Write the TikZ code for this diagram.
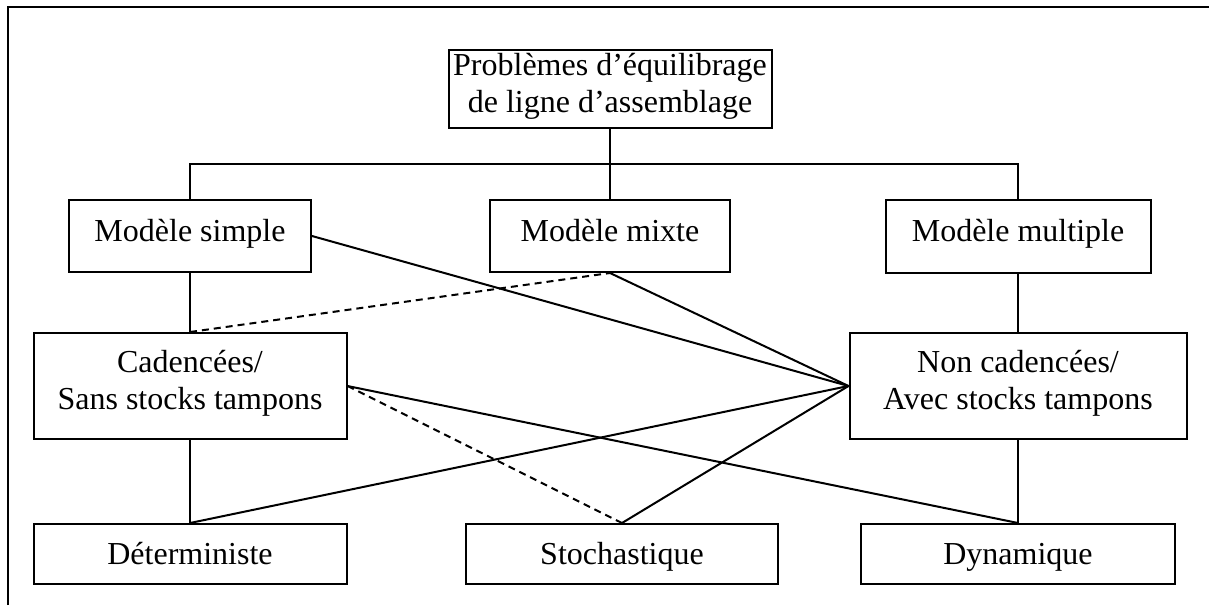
\documentclass[tikz,border=0pt]{standalone}
\usepackage{fontspec}
\setmainfont{Liberation Serif}
\begin{document}
\begin{tikzpicture}[x=1pt,y=-1pt,
  line width=2pt, line cap=butt, line join=miter,
  box/.style={draw, rectangle, inner sep=0pt, align=center,
    font=\fontsize{32}{37}\selectfont},
  oneline/.style={box, text height=22pt, text depth=12pt},
  lowline/.style={box, text height=22pt, text depth=2pt},
  twoline/.style={box, text height=59pt, text depth=12pt},
  link/.style={line width=2pt},
  dashlink/.style={line width=2pt, dash pattern=on 7pt off 5pt}]
  \useasboundingbox (0,0) rectangle (1209,605);

  % partial page frame (left and top edges)
  \draw[line width=2.4pt] (8,605) -- (8,7) -- (1209,7);

  % boxes
  \node[twoline, minimum width=323pt, minimum height=78pt] (top) at (610,89)
    {Problèmes d’équilibrage\\de ligne d’assemblage};
  \node[oneline, minimum width=242pt, minimum height=72pt] (simple) at (190,236) {Modèle simple};
  \node[oneline, minimum width=240pt, minimum height=72pt] (mixte) at (610,236) {Modèle mixte};
  \node[oneline, minimum width=265pt, minimum height=73pt] (multiple) at (1018,236.5) {Modèle multiple};
  \node[twoline, minimum width=313pt, minimum height=106pt] (cad) at (190,386)
    {Cadencées/\\Sans stocks tampons};
  \node[twoline, minimum width=337pt, minimum height=106pt] (noncad) at (1018,386)
    {Non cadencées/\\Avec stocks tampons};
  \node[lowline, minimum width=313pt, minimum height=60pt] (det) at (190,554) {Déterministe};
  \node[lowline, minimum width=312pt, minimum height=60pt] (sto) at (622,554) {Stochastique};
  \node[lowline, minimum width=314pt, minimum height=60pt] (dyn) at (1018,554) {Dynamique};

  % tree bus
  \coordinate (bus) at (610,164);
  \draw[link] (top.south) -- (bus);
  \draw[link] (simple.north) -- (simple.north |- bus) -- (multiple.north |- bus) -- (multiple.north);
  \draw[link] (mixte.north) -- (mixte.north |- bus);

  % vertical links
  \draw[link] (simple.south) -- (cad.north);
  \draw[link] (multiple.south) -- (noncad.north);
  \draw[link] (cad.south) -- (det.north);
  \draw[link] (noncad.south) -- (dyn.north);

  % cross links
  \draw[dashlink] (cad.north) -- (mixte.south);
  \draw[link] (mixte.south) -- (noncad.west);
  \draw[link] (simple.east) -- (noncad.west);
  \draw[link] (cad.east) -- (dyn.north);
  \draw[dashlink] (cad.east) -- (sto.north);
  \draw[link] (det.north) -- (noncad.west);
  \draw[link] (sto.north) -- (noncad.west);
\end{tikzpicture}
\end{document}
